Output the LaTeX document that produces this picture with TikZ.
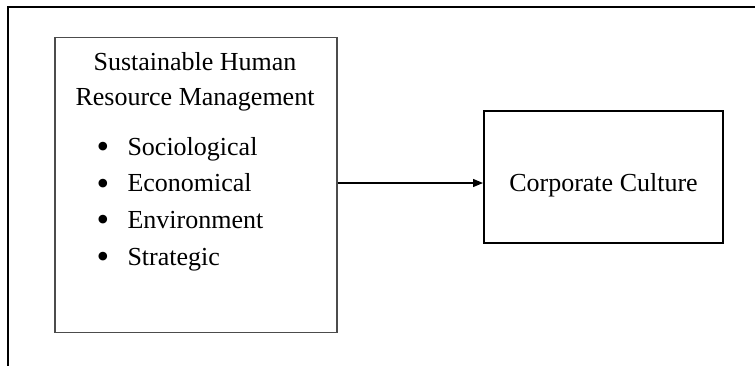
\documentclass[tikz,border=0pt]{standalone}
\usepackage{fontspec}
\setmainfont{Liberation Serif}
\usetikzlibrary{arrows.meta}
\begin{document}
\begin{tikzpicture}[x=1pt,y=-1pt,
  txt/.style={inner sep=0pt,font=\fontsize{26}{30}\selectfont,anchor=base west},
  ctxt/.style={inner sep=0pt,font=\fontsize{26}{30}\selectfont,anchor=base},
  bul/.style={inner sep=0pt,font=\fontsize{36}{40}\selectfont,anchor=base,text height=0.5em,text depth=0pt},
  leftbox/.style={draw=black!70,line width=1.5pt,inner sep=0pt,anchor=north west},
  rightbox/.style={draw=black,line width=2pt,inner sep=0pt},
  conn/.style={line width=1.3pt,-{Triangle[length=10pt,width=8pt]}}
]
\useasboundingbox (0,0) rectangle (755,365);
% outer frame (top and left sides only)
\draw[line width=2.5pt] (8,366) -- (8,7) -- (756,7);
% left box
\node[leftbox,minimum width=282pt,minimum height=295pt] (shrm) at (54.3,36.7) {};
\node[ctxt] (t1) at (195,70.5) {Sustainable Human};
\node[ctxt] (t2) at (195,105) {Resource Management};
\node[bul] (b1) at (103,158.5) {•};
\node[txt] (s1) at (127.3,155) {Sociological};
\node[bul] (b2) at (103,195.2) {•};
\node[txt] (s2) at (127.3,191.7) {Economical};
\node[bul] (b3) at (103,231.8) {•};
\node[txt] (s3) at (127.3,228.3) {Environment};
\node[bul] (b4) at (103,268.5) {•};
\node[txt] (s4) at (127.3,265) {Strategic};
% right box
\node[rightbox,minimum width=239pt,minimum height=132.6pt] (cc) at (603.5,177) {};
\node[ctxt] (cct) at (603.5,191.7) {Corporate Culture};
% connector
\draw[conn] (shrm.east |- 0,183) coordinate (a) -- (cc.west |- a);
\end{tikzpicture}
\end{document}
